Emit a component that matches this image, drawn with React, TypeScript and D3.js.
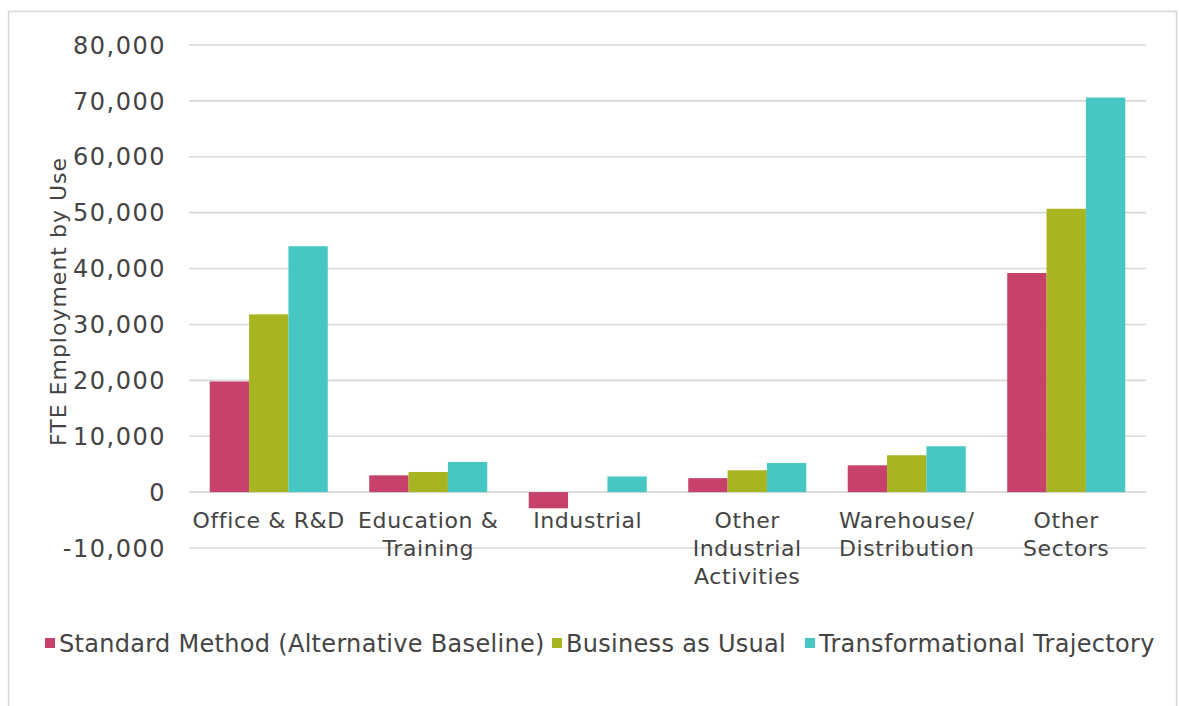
import React from "react";
import * as d3 from "d3";

// category labels as they break on the axis
const categories = ["Office & R&D", "Education & Training", "Industrial", "Other Industrial Activities", "Warehouse/ Distribution", "Other Sectors"];
const categoryLines = [["Office & R&D"], ["Education &", "Training"], ["Industrial"], ["Other", "Industrial", "Activities"], ["Warehouse/", "Distribution"], ["Other", "Sectors"]];

const seriesNames = ["Standard Method (Alternative Baseline)", "Business as Usual", "Transformational Trajectory"];
const standardMethod = [19800, 3000, -2900, 2500, 4800, 39200];
const businessAsUsual = [31800, 3600, 0, 3900, 6600, 50700];
const transformational = [44000, 5400, 2800, 5200, 8200, 70600];

const yTicks = [-10000, 0, 10000, 20000, 30000, 40000, 50000, 60000, 70000, 80000];
const yTitle = "FTE Employment by Use";

const colors = ["#c6426b", "#a9b421", "#47c7c4"];
const font = "'DejaVu Sans', sans-serif";
const textColor = "#444";

const W = 1179;
const H = 706;
const plot = { left: 189, right: 1146, top: 45, bottom: 548 };
const legendX = [45, 552, 805];

const locale = d3.formatLocale({ decimal: ".", thousands: ",", grouping: [3], currency: ["", ""], minus: "-" });

export default function App() {
  const seriesValues = [standardMethod, businessAsUsual, transformational];

  const x = d3.scaleBand<string>()
    .domain(categories)
    .range([plot.left, plot.right])
    .paddingInner(0.26)
    .paddingOuter(0.13);

  const xs = d3.scaleBand<string>()
    .domain(seriesNames)
    .range([0, x.bandwidth()])
    .padding(0);

  const y = d3.scaleLinear()
    .domain([-10000, 80000])
    .range([plot.bottom, plot.top]);

  const fmt = locale.format(",");

  return (
    <div style={{ position: "absolute", left: 0, top: 0, width: W, height: H, background: "#fff" }}>
      <svg width={W} height={H} style={{ display: "block", fontFamily: font }}>
        <rect x={8.5} y={11.5} width={1168} height={720} fill="#fff" stroke="#d6d6d6" strokeWidth={1.5} />

        {yTicks.map((t) => (
          <g key={t}>
            <line x1={plot.left} x2={plot.right} y1={y(t)} y2={y(t)} stroke="#d9d9d9" strokeWidth={1.6} />
            <text x={166} y={y(t)} dy="0.36em" textAnchor="end" fontSize={24} letterSpacing={1.5} fill={textColor}>
              {fmt(t)}
            </text>
          </g>
        ))}

        <text
          transform={`translate(58, ${(plot.top + plot.bottom) / 2 + 5}) rotate(-90)`}
          textAnchor="middle"
          fontSize={22}
          letterSpacing={1}
          fill={textColor}
          dy="0.35em"
        >
          {yTitle}
        </text>

        {categories.map((c, i) => (
          <g key={c} transform={`translate(${x(c)},0)`}>
            {seriesValues.map((vals, s) => {
              const v = vals[i];
              if (v === 0) return null;
              const y0 = y(0);
              const y1 = y(v);
              return (
                <rect
                  key={s}
                  x={xs(seriesNames[s])}
                  y={Math.min(y0, y1)}
                  width={xs.bandwidth()}
                  height={Math.abs(y1 - y0)}
                  fill={colors[s]}
                />
              );
            })}
          </g>
        ))}

        {categories.map((c, i) => (
          <text key={c} textAnchor="middle" fontSize={22} letterSpacing={0.6} fill={textColor}>
            {categoryLines[i].map((line, j) => (
              <tspan key={j} x={(x(c) ?? 0) + x.bandwidth() / 2} y={528 + j * 28}>
                {line}
              </tspan>
            ))}
          </text>
        ))}

        {seriesNames.map((name, s) => (
          <g key={name} transform={`translate(${legendX[s]}, 643)`}>
            <rect x={0} y={-5} width={10} height={10} fill={colors[s]} />
            <text x={14} y={0} dy="0.36em" fontSize={24} letterSpacing={0.3} fill={textColor}>
              {name}
            </text>
          </g>
        ))}
      </svg>
    </div>
  );
}
